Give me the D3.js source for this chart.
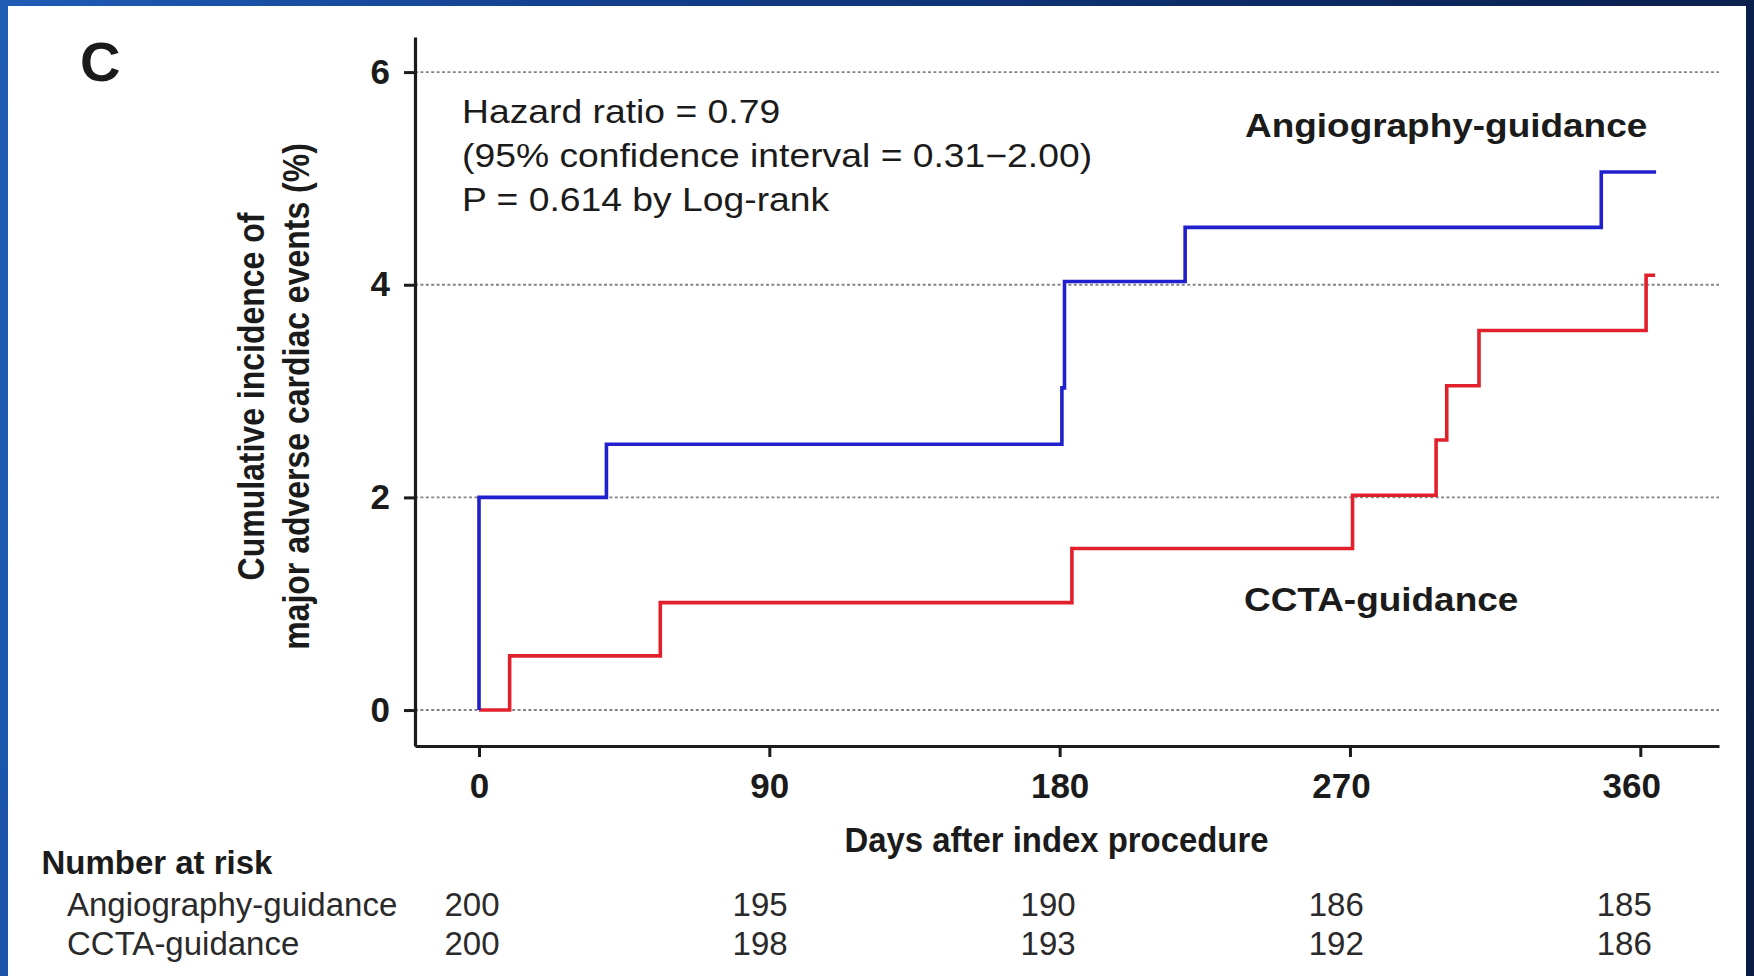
<!DOCTYPE html>
<html><head><meta charset="utf-8">
<script src="https://cdn.jsdelivr.net/npm/d3@7"></script>
<style>
html,body{margin:0;padding:0;}
body{width:1754px;height:976px;overflow:hidden;background:linear-gradient(100deg,#1f5cb6 0%,#13408e 30%,#0c2b66 65%,#0a1c44 100%);}
svg{display:block;}
</style></head><body>
<svg id="chart" width="1754" height="976"></svg>
<script>
// ---- data ----
const angioDays = [0, 0, 39.5, 180.7, 181.5, 218.9, 347.9, 364.9];
const angioIncidence = [0, 2.0, 2.5, 3.03, 4.03, 4.54, 5.06, 5.06];
const cctaDays = [0, 9.5, 56.2, 183.8, 270.8, 296.7, 300.0, 310.0, 361.8, 364.6];
const cctaIncidence = [0, 0.51, 1.01, 1.52, 2.02, 2.54, 3.05, 3.57, 4.09, 4.09];
const xTickValues = [0, 90, 180, 270, 360];
const yTickValues = [0, 2, 4, 6];
const riskDays = [0, 90, 180, 270, 360];
const riskAngio = [200, 195, 190, 186, 185];
const riskCcta = [200, 198, 193, 192, 186];
const groupNames = ["Angiography-guidance", "CCTA-guidance"];
const statsLines = ["Hazard ratio = 0.79", "(95% confidence interval = 0.31\u22122.00)", "P = 0.614 by Log-rank"];
const panelLabel = "C";
const xTitle = "Days after index procedure";
const yTitleLines = ["Cumulative incidence of", "major adverse cardiac events (%)"];
const riskTitle = "Number at risk";

// ---- layout ----
const FONT = "'Liberation Sans', Arial, Helvetica, sans-serif";
const INK = "#1b1b1b";
const BLUE = "#2020cc";
const RED = "#e2202c";
const svg = d3.select("#chart");

svg.append("rect").attr("x", 8).attr("y", 6).attr("width", 1738).attr("height", 980).attr("fill", "#ffffff");

const x = d3.scaleLinear().domain([-19.84, 384.4]).range([415, 1719]);
const y = d3.scaleLinear().domain([-0.338, 6.33]).range([746, 37]);

// grid lines
svg.append("g").selectAll("line").data(yTickValues).join("line")
  .attr("x1", x.range()[0]).attr("x2", x.range()[1])
  .attr("y1", d => y(d)).attr("y2", d => y(d))
  .attr("stroke", "#858585").attr("stroke-width", 1.9).attr("stroke-dasharray", "3,2.4");

// curves
const line = d3.line().x(d => x(d[0])).y(d => y(d[1])).curve(d3.curveStepAfter);
const angio = angioDays.map((d, i) => [d, angioIncidence[i]]);
const ccta = cctaDays.map((d, i) => [d, cctaIncidence[i]]);
svg.append("path").datum(ccta).attr("d", line).attr("fill", "none").attr("stroke", RED).attr("stroke-width", 3.6);
svg.append("path").datum(angio).attr("d", line).attr("fill", "none").attr("stroke", BLUE).attr("stroke-width", 3.6);

// axes
const gY = svg.append("g").attr("transform", `translate(${x.range()[0]},0)`)
  .call(d3.axisLeft(y).tickValues(yTickValues).tickSize(11).tickSizeOuter(0).tickPadding(14).tickFormat(d3.format("d")));
const gX = svg.append("g").attr("transform", `translate(0,${y.range()[0]})`)
  .call(d3.axisBottom(x).tickValues(xTickValues).tickSize(11).tickSizeOuter(0).tickPadding(16).tickFormat(d3.format("d")));
[gX, gY].forEach(g => {
  g.select(".domain").attr("stroke", INK).attr("stroke-width", 3.2);
  g.selectAll(".tick line").attr("stroke", INK).attr("stroke-width", 3);
  g.selectAll(".tick text").attr("fill", INK).style("font-family", FONT).style("font-size", "35px").style("font-weight", "bold");
});
gX.selectAll(".tick text").attr("dx", d => d >= 270 ? -9 : 0);

// panel label
svg.append("text").attr("x", 80).attr("y", 81).text(panelLabel)
  .style("font-family", FONT).style("font-size", "56px").style("font-weight", "bold").attr("fill", INK);

// y title
yTitleLines.forEach((t, i) => {
  svg.append("text").attr("transform", `translate(${264 + i * 45},396.5) scale(1.13,1) rotate(-90)`)
    .attr("text-anchor", "middle").text(t)
    .style("font-family", FONT).style("font-size", "32px").style("font-weight", "bold").attr("fill", INK);
});

// x title
svg.append("text").attr("transform", `translate(1056.5,851.7) scale(0.94,1)`).attr("text-anchor", "middle").text(xTitle)
  .style("font-family", FONT).style("font-size", "35px").style("font-weight", "bold").attr("fill", INK);

// stats
statsLines.forEach((t, i) => {
  svg.append("text").attr("transform", `translate(462,${123.3 + i * 43.8}) scale(1.13,1)`).text(t)
    .style("font-family", FONT).style("font-size", "33px").attr("fill", INK);
});

// group labels
svg.append("text").attr("transform", `translate(1245,136.7) scale(1.12,1)`).text(groupNames[0])
  .style("font-family", FONT).style("font-size", "33px").style("font-weight", "bold").attr("fill", INK);
svg.append("text").attr("transform", `translate(1244,611) scale(1.12,1)`).text(groupNames[1])
  .style("font-family", FONT).style("font-size", "33px").style("font-weight", "bold").attr("fill", INK);

// risk table
svg.append("text").attr("x", 41.4).attr("y", 874).text(riskTitle)
  .style("font-family", FONT).style("font-size", "33px").style("font-weight", "bold").attr("fill", INK);
const rows = [riskAngio, riskCcta];
rows.forEach((vals, r) => {
  const by = 915.5 + r * 39;
  svg.append("text").attr("x", 67).attr("y", by).text(groupNames[r])
    .style("font-family", FONT).style("font-size", "33px").attr("fill", "#2a2a2a");
  svg.append("g").selectAll("text").data(vals).join("text")
    .attr("x", (d, i) => x(riskDays[i]) - 7 - riskDays[i] * 0.025).attr("y", by)
    .attr("text-anchor", "middle").text(d => d)
    .style("font-family", FONT).style("font-size", "33px").attr("fill", "#2a2a2a");
});
</script>
</body></html>
